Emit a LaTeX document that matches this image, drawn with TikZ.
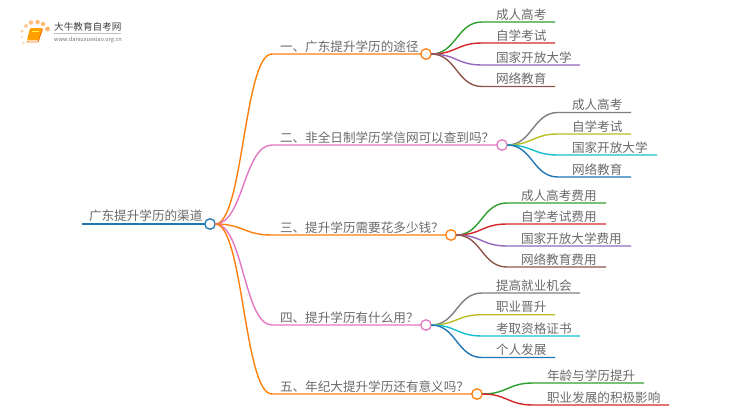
\documentclass[tikz,border=0pt]{standalone}
\usepackage{fontspec}
\usepackage{xcolor}
\setmainfont{Noto Sans CJK SC}
\definecolor{mapblue}{HTML}{1F77B4}
\definecolor{maporange}{HTML}{FF7F0E}
\definecolor{mappink}{HTML}{E377C2}
\definecolor{mapgreen}{HTML}{2CA02C}
\definecolor{mapred}{HTML}{D62728}
\definecolor{mappurple}{HTML}{9467BD}
\definecolor{mapbrown}{HTML}{8C564B}
\definecolor{mapgray}{HTML}{7F7F7F}
\definecolor{mapolive}{HTML}{BCBD22}
\definecolor{mapcyan}{HTML}{17BECF}
\definecolor{maptext}{HTML}{6A6A6A}
\tikzset{
  label/.style = {anchor = base west, inner sep=0pt, outer sep=0pt, text = maptext, font = \fontsize{12.6}{14}\selectfont},
  dot/.style = {circle, draw, fill = white, line width = 1.3pt, minimum size = 10.5pt, inner sep=0pt, outer sep=0pt},
  link/.style = {line width = 1.4pt},
  petal/.style = {circle, fill = #1, inner sep=0pt, outer sep=0pt}
}
\begin{document}
\begin{tikzpicture}[x=1pt, y=-1pt]
            \useasboundingbox (0,0) rectangle (750,410);

            % logo
            \node[petal = orange!25, minimum size = 3pt] (p1) at (23.5,43) {};
            \node[petal = orange!25, minimum size = 3pt] (p2) at (22,37) {};
            \node[petal = orange!35, minimum size = 3.5pt] (p3) at (22,31) {};
            \node[petal = orange!40, minimum size = 4pt] (p4) at (26,26) {};
            \node[petal = orange!50, minimum size = 4.5pt] (p5) at (31,22.5) {};
            \node[petal = orange!55, minimum size = 4.5pt] (p6) at (37.5,22) {};
            \node[petal = orange!55, minimum size = 4.5pt] (p7) at (43,24) {};
            \node[petal = orange!55, minimum size = 5pt] (p8) at (47.5,29) {};
            \fill[orange!75!yellow, rounded corners = 1pt] (30,28) -- (42.5,28) -- (39,40) -- (27,40) -- cycle;
            \draw[orange!30, line width = 0.7pt] (28,40.3) -- (38.5,40.3);
            \draw[orange!90!red, line width = 0.9pt, line cap = round] (27,41) -- (27.5,42) -- (38,42) -- (42.5,29);
            \draw[yellow!70!white, line width = 0.6pt] (32,31) -- (39,31);
            \node[inner sep=0pt, anchor = base west, text = black!75, font = \fontsize{9.6}{10}\selectfont] (logotitle) at (54,30.5) {大牛教育自考网};
            \node[inner sep=0pt, anchor = base west, text = black!55, font = \fontsize{5.6}{6}\selectfont] (logourl) at (54,41) {www.daniuxuexiao.org.cn};
            \coordinate (rulea) at (54,33.3);
            \coordinate (ruleb) at (121,33.3);
            \draw[black!25, line width = 0.5pt] (rulea) -- (ruleb);

            % circles
            \node[dot, draw = mapblue] (root) at (210,224) {};
            \node[dot, draw = maporange] (tujing) at (426,54) {};
            \node[dot, draw = mappink] (xuexin) at (502,145) {};
            \node[dot, draw = maporange] (feiyong) at (451,235) {};
            \node[dot, draw = mappink] (yongchu) at (426,325) {};
            \node[dot, draw = maporange] (yiyi) at (477,394) {};

            % left ends
            \coordinate (rootstart) at (82,224);
            \coordinate (tujingbend) at (272,54);
            \coordinate (xuexinbend) at (272,145);
            \coordinate (feiyongbend) at (272,235);
            \coordinate (yongchubend) at (272,325);
            \coordinate (yiyibend) at (272,394);

            \draw[link, line width = 1.7pt, mapblue] (rootstart) -- (root.west);
            \draw[link, maporange] (root.east) .. controls +(28,0) and +(-28,0) .. (tujingbend) -- (tujing.west);
            \draw[link, mappink] (root.east) .. controls +(28,0) and +(-28,0) .. (xuexinbend) -- (xuexin.west);
            \draw[link, maporange] (root.east) .. controls +(28,0) and +(-28,0) .. (feiyongbend) -- (feiyong.west);
            \draw[link, mappink] (root.east) .. controls +(28,0) and +(-28,0) .. (yongchubend) -- (yongchu.west);
            \draw[link, maporange] (root.east) .. controls +(28,0) and +(-28,0) .. (yiyibend) -- (yiyi.west);

            % labels on the main lines
            \node[label] (roottext) at (89,220.5) {广东提升学历的渠道};
            \node[label] (tujingtext) at (280,51) {一、广东提升学历的途径};
            \node[label] (xuexintext) at (280,142) {二、非全日制学历学信网可以查到吗？};
            \node[label] (feiyongtext) at (280,232) {三、提升学历需要花多少钱？};
            \node[label] (yongchutext) at (280,322) {四、提升学历有什么用？};
            \node[label] (yiyitext) at (280,391) {五、年纪大提升学历还有意义吗？};

            % first group
            \coordinate (a1bend) at (482,22);   \coordinate (a1end) at (555,22);
            \coordinate (a2bend) at (482,43);   \coordinate (a2end) at (555,43);
            \coordinate (a3bend) at (482,65);   \coordinate (a3end) at (580,65);
            \coordinate (a4bend) at (482,86.5); \coordinate (a4end) at (555,86.5);
            \draw[link, mapgreen] (tujing.east) .. controls +(25,0) and +(-25,0) .. (a1bend) -- (a1end);
            \draw[link, mapred] (tujing.east) .. controls +(25,0) and +(-25,0) .. (a2bend) -- (a2end);
            \draw[link, mappurple] (tujing.east) .. controls +(25,0) and +(-25,0) .. (a3bend) -- (a3end);
            \draw[link, mapbrown] (tujing.east) .. controls +(25,0) and +(-25,0) .. (a4bend) -- (a4end);
            \node[label] (a1) at (496,19) {成人高考};
            \node[label] (a2) at (496,40) {自学考试};
            \node[label] (a3) at (496,62) {国家开放大学};
            \node[label] (a4) at (496,83.5) {网络教育};

            % second group
            \coordinate (b1bend) at (558,112.5); \coordinate (b1end) at (631,112.5);
            \coordinate (b2bend) at (558,134);   \coordinate (b2end) at (631,134);
            \coordinate (b3bend) at (558,155);   \coordinate (b3end) at (657,155);
            \coordinate (b4bend) at (558,177);   \coordinate (b4end) at (631,177);
            \draw[link, mapgray] (xuexin.east) .. controls +(25,0) and +(-25,0) .. (b1bend) -- (b1end);
            \draw[link, mapolive] (xuexin.east) .. controls +(25,0) and +(-25,0) .. (b2bend) -- (b2end);
            \draw[link, mapcyan] (xuexin.east) .. controls +(25,0) and +(-25,0) .. (b3bend) -- (b3end);
            \draw[link, mapblue] (xuexin.east) .. controls +(25,0) and +(-25,0) .. (b4bend) -- (b4end);
            \node[label] (b1) at (572,109.5) {成人高考};
            \node[label] (b2) at (572,131) {自学考试};
            \node[label] (b3) at (572,152) {国家开放大学};
            \node[label] (b4) at (572,174) {网络教育};

            % third group
            \coordinate (c1bend) at (507,203); \coordinate (c1end) at (606,203);
            \coordinate (c2bend) at (507,224); \coordinate (c2end) at (606,224);
            \coordinate (c3bend) at (507,246); \coordinate (c3end) at (631,246);
            \coordinate (c4bend) at (507,267); \coordinate (c4end) at (606,267);
            \draw[link, mapgreen] (feiyong.east) .. controls +(25,0) and +(-25,0) .. (c1bend) -- (c1end);
            \draw[link, mapred] (feiyong.east) .. controls +(25,0) and +(-25,0) .. (c2bend) -- (c2end);
            \draw[link, mappurple] (feiyong.east) .. controls +(25,0) and +(-25,0) .. (c3bend) -- (c3end);
            \draw[link, mapbrown] (feiyong.east) .. controls +(25,0) and +(-25,0) .. (c4bend) -- (c4end);
            \node[label] (c1) at (521,200) {成人高考费用};
            \node[label] (c2) at (521,221) {自学考试费用};
            \node[label] (c3) at (521,243) {国家开放大学费用};
            \node[label] (c4) at (521,264) {网络教育费用};

            % fourth group
            \coordinate (d1bend) at (482,293);   \coordinate (d1end) at (580,293);
            \coordinate (d2bend) at (482,314.7); \coordinate (d2end) at (555,314.7);
            \coordinate (d3bend) at (482,336);   \coordinate (d3end) at (580,336);
            \coordinate (d4bend) at (482,357.5); \coordinate (d4end) at (555,357.5);
            \draw[link, mapgray] (yongchu.east) .. controls +(25,0) and +(-25,0) .. (d1bend) -- (d1end);
            \draw[link, mapolive] (yongchu.east) .. controls +(25,0) and +(-25,0) .. (d2bend) -- (d2end);
            \draw[link, mapcyan] (yongchu.east) .. controls +(25,0) and +(-25,0) .. (d3bend) -- (d3end);
            \draw[link, mapblue] (yongchu.east) .. controls +(25,0) and +(-25,0) .. (d4bend) -- (d4end);
            \node[label] (d1) at (496,290) {提高就业机会};
            \node[label] (d2) at (496,311.7) {职业晋升};
            \node[label] (d3) at (496,333) {考取资格证书};
            \node[label] (d4) at (496,354.5) {个人发展};

            % fifth group
            \coordinate (e1bend) at (533,383); \coordinate (e1end) at (644,383);
            \coordinate (e2bend) at (533,405); \coordinate (e2end) at (669,405);
            \draw[link, mapgreen] (yiyi.east) .. controls +(25,0) and +(-25,0) .. (e1bend) -- (e1end);
            \draw[link, mapred] (yiyi.east) .. controls +(25,0) and +(-25,0) .. (e2bend) -- (e2end);
            \node[label] (e1) at (547,380) {年龄与学历提升};
            \node[label] (e2) at (547,402) {职业发展的积极影响};
          \end{tikzpicture}
\end{document}
